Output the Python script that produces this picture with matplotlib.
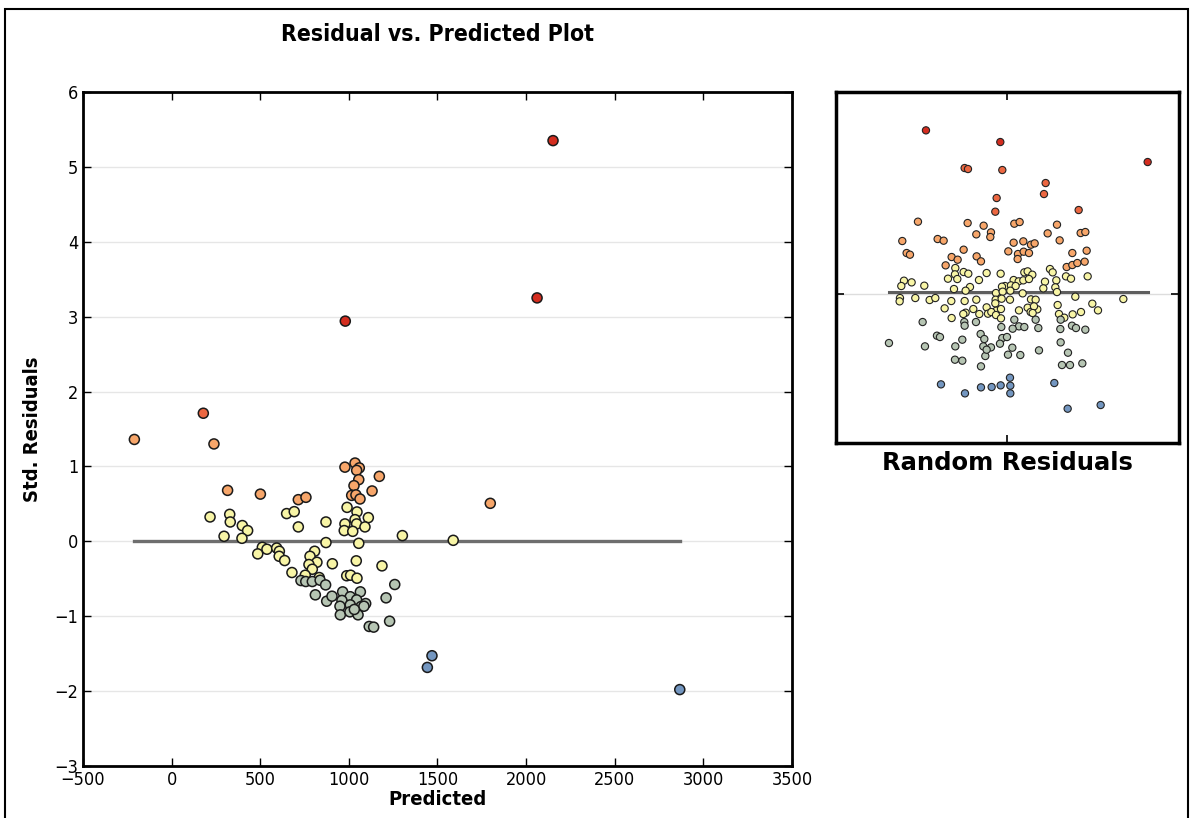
import numpy as np
import matplotlib
matplotlib.use("Agg")
import matplotlib.pyplot as plt
from matplotlib.colors import ListedColormap, BoundaryNorm
from matplotlib.patches import Rectangle

plt.rcParams['font.family'] = ['DejaVu Sans']
plt.rcParams['font.stretch'] = 'condensed'

# main plot: predicted values vs standardized residuals
predicted = [-210, 179, 239, 316, 501, 715, 758, 978, 1035, 1059, 1044, 1172, 1056, 1029, 1131, 1016, 1040, 1063,
             217, 328, 331, 399, 429, 296, 397, 649, 692, 715, 871, 990, 1046, 1035, 1110, 978, 1044, 1091, 974,
             1022, 1302, 1589, 871, 1056,
             512, 538, 486, 593, 608, 607, 638, 807, 781, 820, 775, 794, 907, 1042, 1187, 679, 754, 833, 988, 1010,
             1046,
             730, 757, 794, 838, 869, 811, 875, 905, 965, 1008, 1065, 1044, 961, 950, 1008, 1069, 1095, 952, 1006,
             1052, 1085, 1115, 1140, 1230, 1210, 1259, 1031,
             1469, 1443, 2867, 1798, 2152, 2062, 980]
std_resid = [1.36, 1.71, 1.30, 0.68, 0.63, 0.556, 0.587, 0.99, 1.045, 0.98, 0.947, 0.867, 0.823, 0.743, 0.672, 0.613,
             0.62, 0.565,
             0.325, 0.36, 0.258, 0.21, 0.143, 0.067, 0.04, 0.37, 0.396, 0.192, 0.258, 0.453, 0.392, 0.289, 0.316,
             0.232, 0.232, 0.192, 0.143, 0.133, 0.076, 0.013, -0.017, -0.027,
             -0.08, -0.106, -0.168, -0.09, -0.133, -0.2, -0.257, -0.133, -0.2, -0.28, -0.31, -0.373, -0.30, -0.261,
             -0.328, -0.417, -0.453, -0.484, -0.46, -0.453, -0.493,
             -0.524, -0.537, -0.537, -0.52, -0.582, -0.715, -0.80, -0.733, -0.675, -0.74, -0.675, -0.782, -0.79,
             -0.867, -0.849, -0.871, -0.831, -0.982, -0.942, -0.982, -0.867, -1.137, -1.146, -1.067, -0.755, -0.577,
             -0.91,
             -1.528, -1.684, -1.98, 0.507, 5.35, 3.25, 2.94]

# inset: example of random residuals
rand_x = [-2.42, -0.19, 4.23,
          -1.26, -1.16, -0.13, 1.17, 1.12, -0.30, -0.34, 2.16,
          -2.66, -1.17, -0.69, 0.23, 0.39, 1.51, -0.91, -0.47, -0.49, 1.23, 2.22, 2.36, -3.13, -2.07, -1.89, 0.21,
          0.50, 0.73, 0.84, 1.59, -3.00, -2.90, -1.29, 0.05, 0.34, 0.51, 0.67, 1.97, 2.40, -1.65, -1.47, -0.90,
          -0.77, 0.33, 1.80, 1.97, 2.12, 2.34, -1.83,
          -1.54, -0.60, -0.18, 0.53, 0.63, 0.77, 1.30, 1.38, 1.78, 1.93, 2.43, -1.55, -1.76, -1.48, -1.29, -1.15,
          -0.83, 0.21, 0.36, 0.50, 0.67, 1.15, 1.49, -3.08, -2.85, -3.16, -2.47, -1.10, -1.23, -1.58, -0.05, -0.14,
          0.13, 0.27, 1.10, 1.46, 1.51, -0.32, -0.12, 0.11, 0.48, -3.20, -3.21, -2.74, -2.31, -2.14, -1.66, -1.26,
          -0.91, -0.33, -0.15, 0.10, 0.73, 0.87, 2.06, 3.50, -1.86, -1.00, -1.23, -0.60, -0.34, -0.31, -0.17, 0.37,
          0.63, 0.92, 0.72, 1.53, 1.57, 1.73, 1.98, 2.23, 2.57, 2.74, -1.65, -1.30, -0.82, -0.56, -0.46, -0.32,
          -0.17, 0.82, 0.78,
          -2.52, -1.27, -0.92, -1.26, 0.23, 0.37, 0.53, 0.18, -0.16, 0.95, 0.87, 1.62, 1.61, 1.96, 2.08, 2.36,
          -2.09, -2.00, -0.78, -0.67, -0.13, 0.01, -0.20, -3.53, -2.45, -1.33, -1.54, -0.70, -0.47, 0.17, 0.04,
          0.41, 0.97, -0.64, -0.60, -1.55, -1.33, 1.62, 1.84, -0.77, 1.66, 1.90, 2.27,
          0.10, 0.11, 0.11, -1.97, -1.25, -0.77, -0.45, -0.18, 1.43, 1.83, 2.82]
rand_y = [4.90, 4.55, 3.95,
          3.77, 3.74, 3.71, 3.32, 2.99, 2.87, 2.46, 2.51,
          2.16, 2.12, 2.04, 2.10, 2.15, 2.07, 1.78, 1.84, 1.70, 1.81, 1.82, 1.85, 1.58, 1.64, 1.59, 1.53,
          1.57, 1.47, 1.51, 1.60, 1.22, 1.17, 1.32, 1.27, 1.19, 1.26, 1.22, 1.22, 1.29, 1.10, 1.02, 1.12,
          0.97, 1.04, 0.80, 0.86, 0.92, 0.96, 0.85,
          0.77, 0.62, 0.60, 0.64, 0.67, 0.57, 0.74, 0.64, 0.52, 0.45, 0.52, 0.58, 0.45, 0.44, 0.65, 0.60,
          0.41, 0.41, 0.37, 0.40, 0.44, 0.36, 0.40, 0.39, 0.34, 0.23, 0.24, 0.20, 0.09, 0.14, 0.23, 0.21,
          0.25, 0.23, 0.16, 0.19, 0.05, 0.02, 0.06, 0.09, 0.01, -0.13, -0.23, -0.13, -0.19, -0.13, -0.22, -0.22,
          -0.18, -0.18, -0.15, -0.18, -0.17, -0.18, -0.09, -0.16, -0.44, -0.46, -0.57, -0.41, -0.29, -0.51, -0.46,
          -0.50, -0.42, -0.47, -0.55, -0.34, -0.61, -0.72, -0.62, -0.55, -0.30, -0.50, -0.73, -0.61, -0.61, -0.60,
          -0.55, -0.64, -0.74, -0.38, -0.58,
          -0.85, -0.85, -0.85, -0.96, -0.78, -0.98, -1.00, -1.05, -1.00, -1.03, -0.78, -0.78, -1.06, -0.96, -1.03,
          -1.08, -1.26, -1.30, -1.21, -1.36, -1.33, -1.30, -1.50, -1.48, -1.58, -1.38, -1.58, -1.58, -1.61, -1.62,
          -1.83, -1.84, -1.70, -1.87, -1.68, -1.98, -2.01, -1.46, -1.77, -2.18, -2.14, -2.14, -2.09,
          -2.52, -2.76, -2.99, -2.72, -2.99, -2.81, -2.80, -2.75, -2.68, -3.45, -3.34]

palette = ['#7396c0', '#b6c5b3', '#f8f5a6', '#f7a66a', '#ec6741', '#d42d1f']
cmap = ListedColormap(palette)
main_norm = BoundaryNorm([-10, -1.3, -0.51, 0.48, 1.5, 2.5, 10], cmap.N)
rand_norm = BoundaryNorm([-10, -2.35, -0.76, 0.79, 2.3, 3.85, 10], cmap.N)

fig = plt.figure(figsize=(11.92, 8.18), dpi=100)
fig.patches.append(Rectangle((0.0042, -0.02), 0.9925, 1.009, transform=fig.transFigure,
                             fill=False, edgecolor='black', lw=1.5))

ax = fig.add_axes([0.0696, 0.0636, 0.5948, 0.824])
for yv in range(-3, 7):
    ax.axhline(yv, color='#e6e6e6', lw=1, zorder=0)
ax.plot([min(predicted), max(predicted)], [0, 0], color='#6e6e6e', lw=2.4, zorder=1)
ax.scatter(predicted, std_resid, c=std_resid, cmap=cmap, norm=main_norm, s=52,
           edgecolors='#1a1a1a', linewidths=1.1, zorder=2)
ax.set_xlim(-500, 3500)
ax.set_ylim(-3, 6)
ax.set_xticks(range(-500, 3501, 500))
ax.set_yticks(range(-3, 7))
ax.set_xticklabels([str(v).replace('-', '\u2212') for v in range(-500, 3501, 500)])
ax.set_yticklabels([str(v).replace('-', '\u2212') for v in range(-3, 7)])
ax.tick_params(direction='in', top=True, right=True, labelsize=13, length=6, width=1)
for sp in ax.spines.values():
    sp.set_linewidth(2)
ax.set_title('Residual vs. Predicted Plot', fontsize=16.5, fontweight='bold', pad=37)
ax.set_xlabel('Predicted', fontsize=14.5, fontweight='bold', labelpad=1)
ax.set_ylabel('Std. Residuals', fontsize=14.5, fontweight='bold', labelpad=9)

ins = fig.add_axes([0.7013, 0.4584, 0.2878, 0.4291])
ins.axhline(0, color='#dddddd', lw=1, zorder=0)
ins.plot([min(rand_x), max(rand_x)], [0.04, 0.04], color='#5e5e5e', lw=2.2, zorder=1)
ins.scatter(rand_x, rand_y, c=rand_y, cmap=cmap, norm=rand_norm, s=27,
            edgecolors='#222222', linewidths=0.8, zorder=2)
ins.set_xlim(-5.12, 5.17)
ins.set_ylim(-4.48, 6.05)
ins.set_xticks([0])
ins.set_yticks([0])
ins.tick_params(direction='in', top=True, right=True, labelbottom=False, labelleft=False,
                length=6, width=1.2)
for sp in ins.spines.values():
    sp.set_linewidth(2.5)
ins.set_xlabel('Random Residuals', fontsize=17.5, fontweight='bold', fontstretch='normal', labelpad=6)

fig.savefig('out.png', dpi=100)
